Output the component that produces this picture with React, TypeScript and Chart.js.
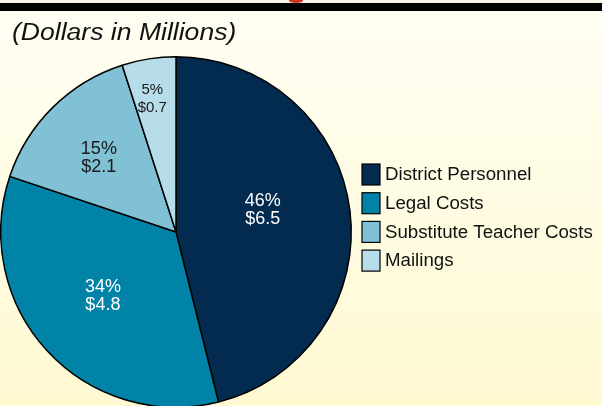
import React, { useEffect, useRef } from "react";
import { Chart, registerables } from "chart.js";

Chart.register(...registerables);

const categories = ["District Personnel", "Legal Costs", "Substitute Teacher Costs", "Mailings"];
const dollarValues = [6.5, 4.8, 2.1, 0.7];
const percentLabels = ["46%", "34%", "15%", "5%"];
const dollarLabels = ["$6.5", "$4.8", "$2.1", "$0.7"];
const sliceColors = ["#032a4f", "#0182a7", "#80c1d5", "#b6dde9"];
const labelColors = ["#ffffff", "#ffffff", "#1a1a1a", "#1a1a1a"];
const labelRadius = [0.51, 0.555, 0.61, 0.77];
const labelAngleShift = [-7, 1.5, -1.5, -1.2];
const labelFontSize = [18, 18, 18, 15];
const subtitle = "(Dollars in Millions)";

const FONT = '"Liberation Sans", Arial, Helvetica, sans-serif';

const decorPlugin = {
  id: "decor",
  beforeDraw(chart: any) {
    const ctx = chart.ctx;
    const w = chart.width;
    const h = chart.height;
    ctx.save();
    const g = ctx.createLinearGradient(0, 11, 0, 406);
    g.addColorStop(0, "#fffef3");
    g.addColorStop(1, "#fff9d2");
    ctx.fillStyle = g;
    ctx.fillRect(0, 0, w, h);
    ctx.fillStyle = "#f7f4e6";
    ctx.fillRect(0, 0, w, 3);
    // red title fragment peeking above the bar
    ctx.fillStyle = "#c9341f";
    ctx.beginPath();
    ctx.ellipse(296, 0.5, 7, 2.5, 0, 0, Math.PI * 2);
    ctx.fill();
    ctx.fillStyle = "#000000";
    ctx.fillRect(0, 3, w, 8);
    // subtitle
    ctx.fillStyle = "#111111";
    ctx.font = "italic 23.5px " + FONT;
    ctx.textBaseline = "alphabetic";
    ctx.textAlign = "left";
    ctx.translate(12, 40);
    ctx.scale(1.13, 1);
    ctx.fillText(subtitle, 0, 0);
    ctx.restore();
  },
  afterDatasetsDraw(chart: any) {
    const ctx = chart.ctx;
    const meta = chart.getDatasetMeta(0);
    ctx.save();
    ctx.textAlign = "center";
    ctx.textBaseline = "middle";
    meta.data.forEach((arc: any, i: number) => {
      const mid = (arc.startAngle + arc.endAngle) / 2 + (labelAngleShift[i] * Math.PI) / 180;
      const r = arc.outerRadius * labelRadius[i];
      const x = arc.x + Math.cos(mid) * r;
      const y = arc.y + Math.sin(mid) * r;
      ctx.fillStyle = labelColors[i];
      ctx.font = labelFontSize[i] + "px " + FONT;
      ctx.fillText(percentLabels[i], x, y - 9);
      ctx.fillText(dollarLabels[i], x, y + 9);
    });
    ctx.restore();
  },
  afterDraw(chart: any) {
    const ctx = chart.ctx;
    ctx.save();
    ctx.font = "18.7px " + FONT;
    ctx.textAlign = "left";
    ctx.textBaseline = "middle";
    categories.forEach((label, i) => {
      const cy = 174.5 + i * 28.7;
      ctx.fillStyle = sliceColors[i];
      ctx.fillRect(362, cy - 10.5, 18, 21);
      ctx.strokeStyle = "#000000";
      ctx.lineWidth = 1.2;
      ctx.strokeRect(362, cy - 10.5, 18, 21);
      ctx.fillStyle = "#111111";
      ctx.fillText(label, 385, cy + 0.5);
    });
    ctx.restore();
  },
};

export default function App() {
  const ref = useRef<HTMLCanvasElement>(null);
  useEffect(() => {
    if (!ref.current) return;
    const chart = new Chart(ref.current, {
      type: "pie",
      data: {
        labels: categories,
        datasets: [
          {
            data: dollarValues,
            backgroundColor: sliceColors,
            borderColor: "#000000",
            borderWidth: 1.5,
          },
        ],
      },
      options: {
        responsive: false,
        animation: false,
        devicePixelRatio: 1,
        layout: { padding: { left: 0, top: 56, right: 250, bottom: 12 } },
        plugins: {
          legend: { display: false },
          title: { display: false },
          tooltip: { enabled: false },
        },
      },
      plugins: [decorPlugin],
    });
    return () => chart.destroy();
  }, []);
  return (
    <div
      style={{
        position: "fixed",
        left: 0,
        top: 0,
        width: 602,
        height: 406,
        overflow: "hidden",
        background: "#fffbe0",
      }}
    >
      <canvas ref={ref} width={602} height={420} style={{ display: "block", width: 602, height: 420 }} />
    </div>
  );
}
